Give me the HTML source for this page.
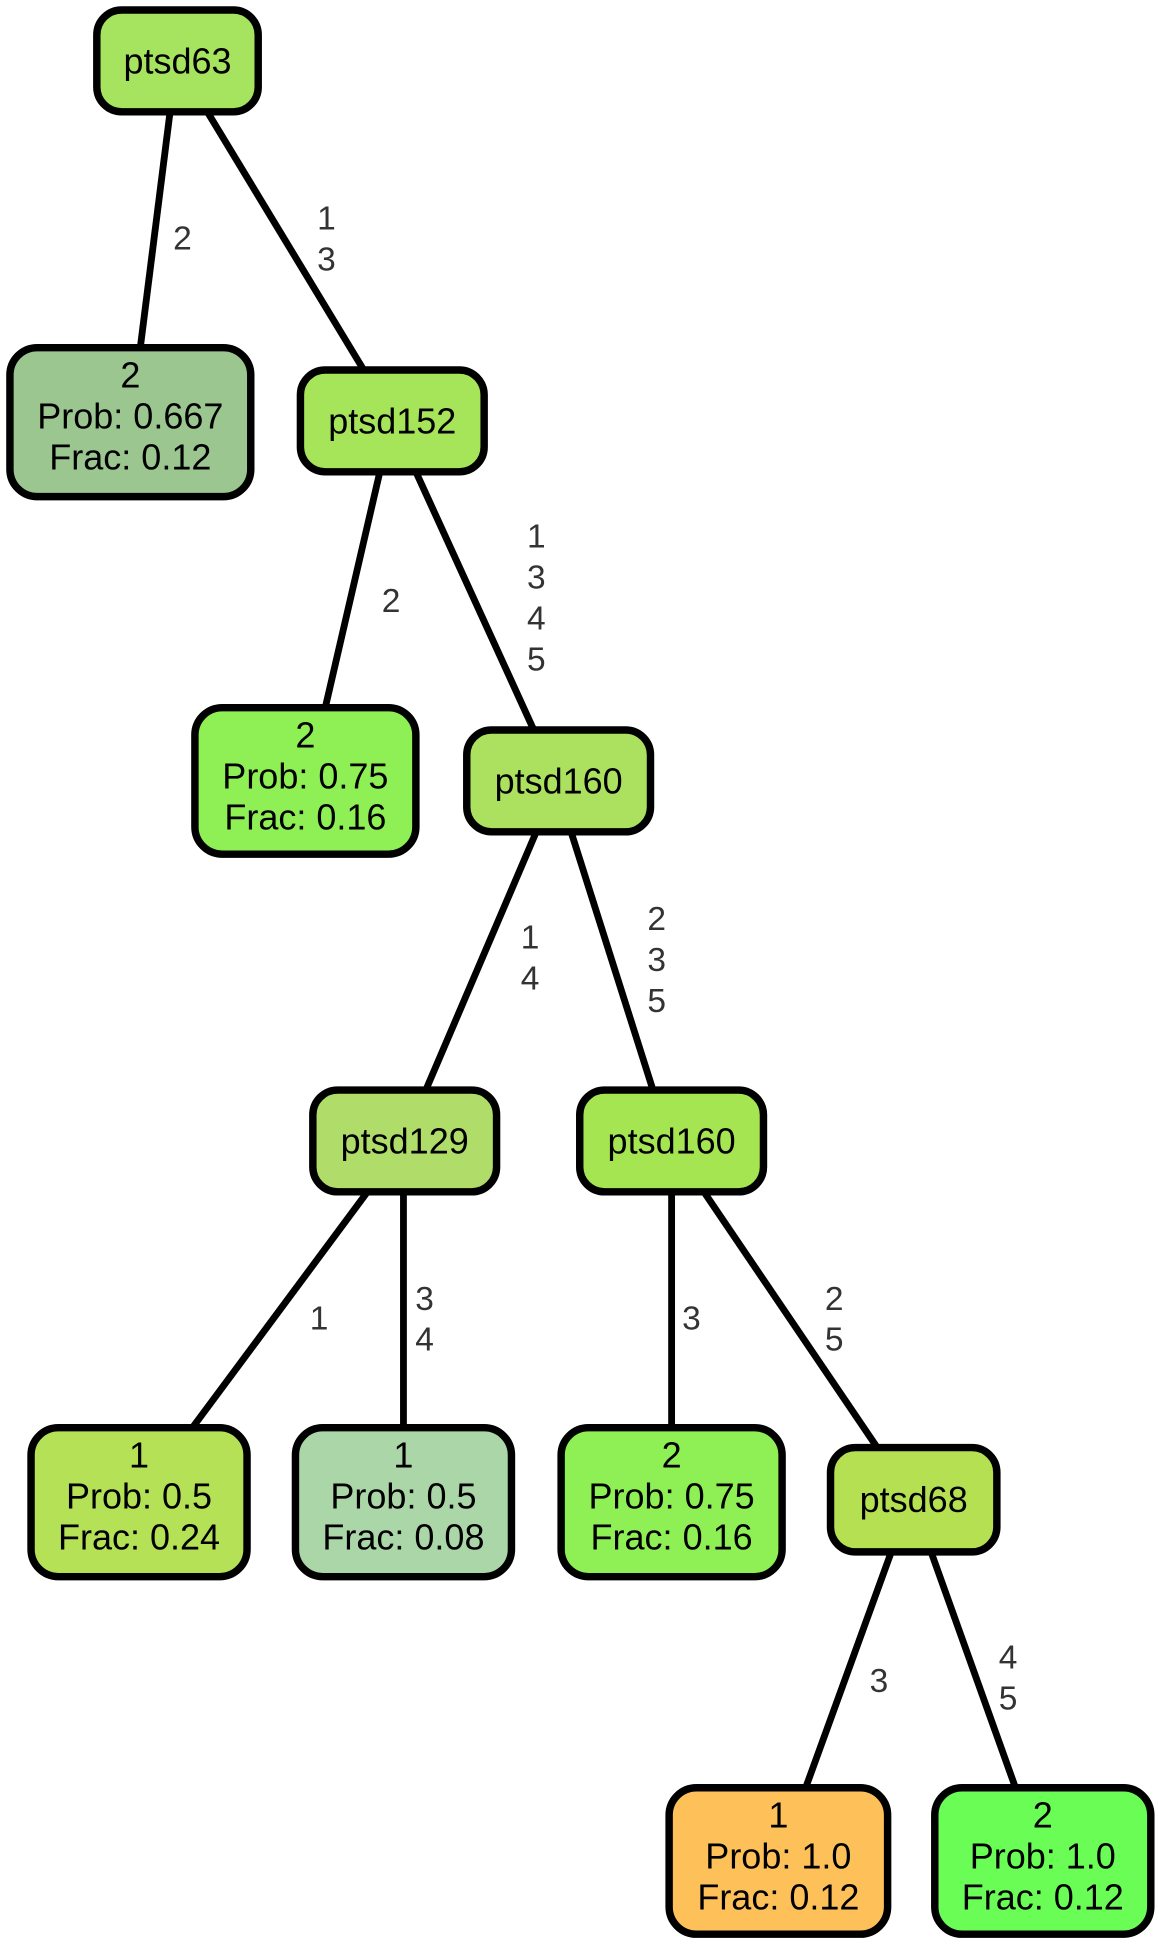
<!DOCTYPE html>
<html><head><meta charset="utf-8"><style>
html,body{margin:0;padding:0;background:#fff;}
svg{display:block;}
text{font-family:"Liberation Sans",Arial,sans-serif;}
.n{font-size:29px;fill:#000;text-anchor:middle;}
.l{font-size:27px;fill:#333;text-anchor:middle;}
rect{stroke:#000;stroke-width:6;}
line{stroke:#000;stroke-width:5.5;}
</style></head><body>
<svg width="1157" height="1938" viewBox="0 0 932 1561" xmlns="http://www.w3.org/2000/svg">
<g>
<line x1="137" y1="90" x2="113" y2="280"/>
<line x1="167" y1="90" x2="293" y2="298"/>
<line x1="306" y1="380" x2="262" y2="570"/>
<line x1="335" y1="380" x2="430" y2="588"/>
<line x1="432" y1="670" x2="343" y2="878"/>
<line x1="460" y1="670" x2="526" y2="878"/>
<line x1="296" y1="960" x2="155" y2="1150"/>
<line x1="325" y1="960" x2="325" y2="1150"/>
<line x1="541" y1="960" x2="541" y2="1150"/>
<line x1="567" y1="960" x2="708" y2="1168"/>
<line x1="718" y1="1250" x2="649" y2="1440"/>
<line x1="750" y1="1250" x2="818" y2="1440"/>
</g>
<text class="l" x="147" y="201">2</text>
<text class="l" x="263" y="185">1</text><text class="l" x="263" y="218">3</text>
<text class="l" x="315" y="493">2</text>
<text class="l" x="432" y="441">1</text><text class="l" x="432" y="474">3</text><text class="l" x="432" y="507">4</text><text class="l" x="432" y="540">5</text>
<text class="l" x="427" y="764">1</text><text class="l" x="427" y="797">4</text>
<text class="l" x="529" y="749">2</text><text class="l" x="529" y="782">3</text><text class="l" x="529" y="815">5</text>
<text class="l" x="257" y="1071">1</text>
<text class="l" x="342" y="1055">3</text><text class="l" x="342" y="1088">4</text>
<text class="l" x="557" y="1071">3</text>
<text class="l" x="672" y="1055">2</text><text class="l" x="672" y="1088">5</text>
<text class="l" x="708" y="1363">3</text>
<text class="l" x="812" y="1344">4</text><text class="l" x="812" y="1377">5</text>
<rect x="78" y="8" width="130" height="82" rx="20" fill="#a6e35e"/>
<text class="n" x="143" y="59">ptsd63</text>
<rect x="8" y="280" width="194" height="120" rx="22" fill="#9bc690"/>
<text class="n" x="105" y="312">2</text><text class="n" x="105" y="345">Prob: 0.667</text><text class="n" x="105" y="378">Frac: 0.12</text>
<rect x="242" y="298" width="148" height="82" rx="20" fill="#a6e45a"/>
<text class="n" x="316" y="349">ptsd152</text>
<rect x="157" y="570" width="178" height="118" rx="22" fill="#8ef055"/>
<text class="n" x="246" y="602">2</text><text class="n" x="246" y="635">Prob: 0.75</text><text class="n" x="246" y="668">Frac: 0.16</text>
<rect x="376" y="588" width="148" height="82" rx="20" fill="#abe15e"/>
<text class="n" x="450" y="639">ptsd160</text>
<rect x="252" y="878" width="148" height="82" rx="20" fill="#b0dd6a"/>
<text class="n" x="326" y="929">ptsd129</text>
<rect x="467" y="878" width="148" height="82" rx="20" fill="#a6e552"/>
<text class="n" x="541" y="929">ptsd160</text>
<rect x="25" y="1150" width="174" height="120" rx="22" fill="#b4e155"/>
<text class="n" x="112" y="1182">1</text><text class="n" x="112" y="1215">Prob: 0.5</text><text class="n" x="112" y="1248">Frac: 0.24</text>
<rect x="238" y="1150" width="174" height="120" rx="22" fill="#abd6a8"/>
<text class="n" x="325" y="1182">1</text><text class="n" x="325" y="1215">Prob: 0.5</text><text class="n" x="325" y="1248">Frac: 0.08</text>
<rect x="452" y="1150" width="178" height="120" rx="22" fill="#8ef055"/>
<text class="n" x="541" y="1182">2</text><text class="n" x="541" y="1215">Prob: 0.75</text><text class="n" x="541" y="1248">Frac: 0.16</text>
<rect x="669" y="1166" width="134" height="84" rx="20" fill="#b4e052"/>
<text class="n" x="736" y="1218">ptsd68</text>
<rect x="539" y="1440" width="176" height="118" rx="22" fill="#fec15a"/>
<text class="n" x="627" y="1472">1</text><text class="n" x="627" y="1505">Prob: 1.0</text><text class="n" x="627" y="1538">Frac: 0.12</text>
<rect x="753" y="1440" width="174" height="118" rx="22" fill="#6afd56"/>
<text class="n" x="840" y="1472">2</text><text class="n" x="840" y="1505">Prob: 1.0</text><text class="n" x="840" y="1538">Frac: 0.12</text>
</svg>
</body></html>
